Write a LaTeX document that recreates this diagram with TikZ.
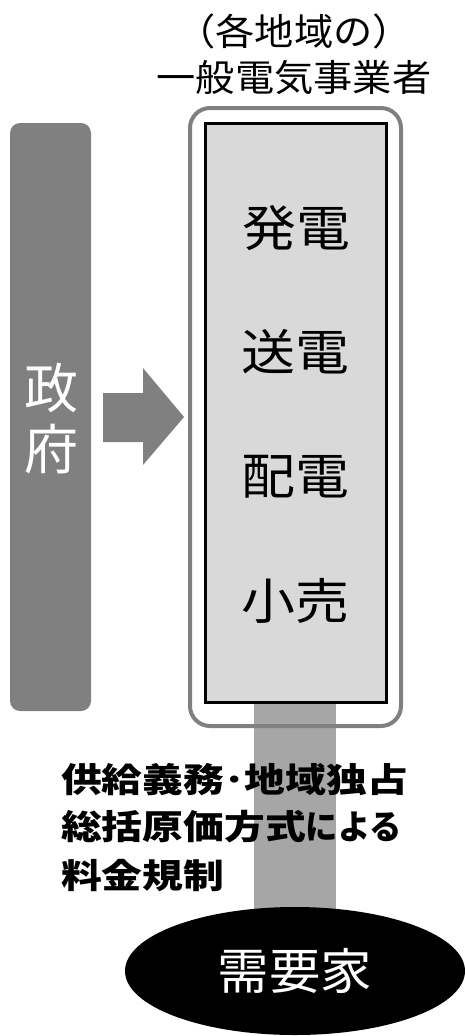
\documentclass[tikz,border=0pt]{standalone}
\usepackage{fontspec}
\usepackage{graphicx}
\newfontfamily\jp{Noto Sans CJK JP}
\definecolor{dgray}{HTML}{808080}
\definecolor{mgray}{HTML}{A6A6A6}
\definecolor{lgray}{HTML}{D9D9D9}
\newcommand{\jsz}[2]{\jp\fontsize{#1}{#2}\selectfont}
\newcommand{\sx}[2]{\scalebox{#1}[1]{#2}}
\begin{document}
\begin{tikzpicture}[x=1pt,y=-1pt,
  txt/.style={inner sep=0pt,outer sep=0pt,anchor=center},
  stage/.style={txt,font=\jsz{49}{58}},
  bold/.style={txt,anchor=west,font=\jsz{34}{40}\bfseries}]
\useasboundingbox (0,0) rectangle (465,1036);
% title
\node[txt,font=\jsz{37}{44}] (t1) at (294,31) {\sx{1.06}{（各地域の）}};
\node[txt,font=\jsz{37}{44}] (t2) at (294,78) {\sx{1.06}{一般電気事業者}};
% government bar
\node[draw=none,fill=dgray,rounded corners=10pt,minimum width=81pt,minimum height=588pt,inner sep=0pt] (gov) at (50.5,417) {};
\node[txt,text=white,font=\jsz{54}{64}] (g1) at (51,388) {政};
\node[txt,text=white,font=\jsz{54}{64}] (g2) at (51,449) {府};
% arrow
\fill[dgray] (103,393) -- (143,393) -- (143,368) -- (184,417) -- (143,465) -- (143,442) -- (103,442) -- cycle;
% connector bar
\fill[mgray] (254,700) rectangle (336,912);
% outer rounded box
\draw[dgray,line width=4pt,rounded corners=20pt] (190,108) rectangle (401,726);
% inner box
\node[draw=black,line width=3pt,fill=lgray,minimum width=181pt,minimum height=579pt,inner sep=0pt] (inner) at (295.5,413) {};
\node[stage] (s1) at (296,228) {\sx{1.1}{発電}};
\node[stage] (s2) at (295,352) {\sx{1.1}{送電}};
\node[stage] (s3) at (295,477) {\sx{1.1}{配電}};
\node[stage] (s4) at (295,601) {\sx{1.1}{小売}};
% bold text
\node[bold] (b1) at (61,780) {\sx{1.2}{供給義務}\sx{1.2}{･}\sx{1.2}{地域独占}};
\node[bold] (b2) at (61,827) {\sx{1.2}{総括原価方式}\sx{0.95}{による}};
\node[bold] (b3) at (61,876) {\sx{1.2}{料金規制}};
% customer ellipse
\fill[black] (295,971) ellipse [x radius=170pt, y radius=64pt];
\node[txt,text=white,font=\jsz{49}{58}] (cust) at (295,971) {\sx{1.05}{需要家}};
\end{tikzpicture}
\end{document}
